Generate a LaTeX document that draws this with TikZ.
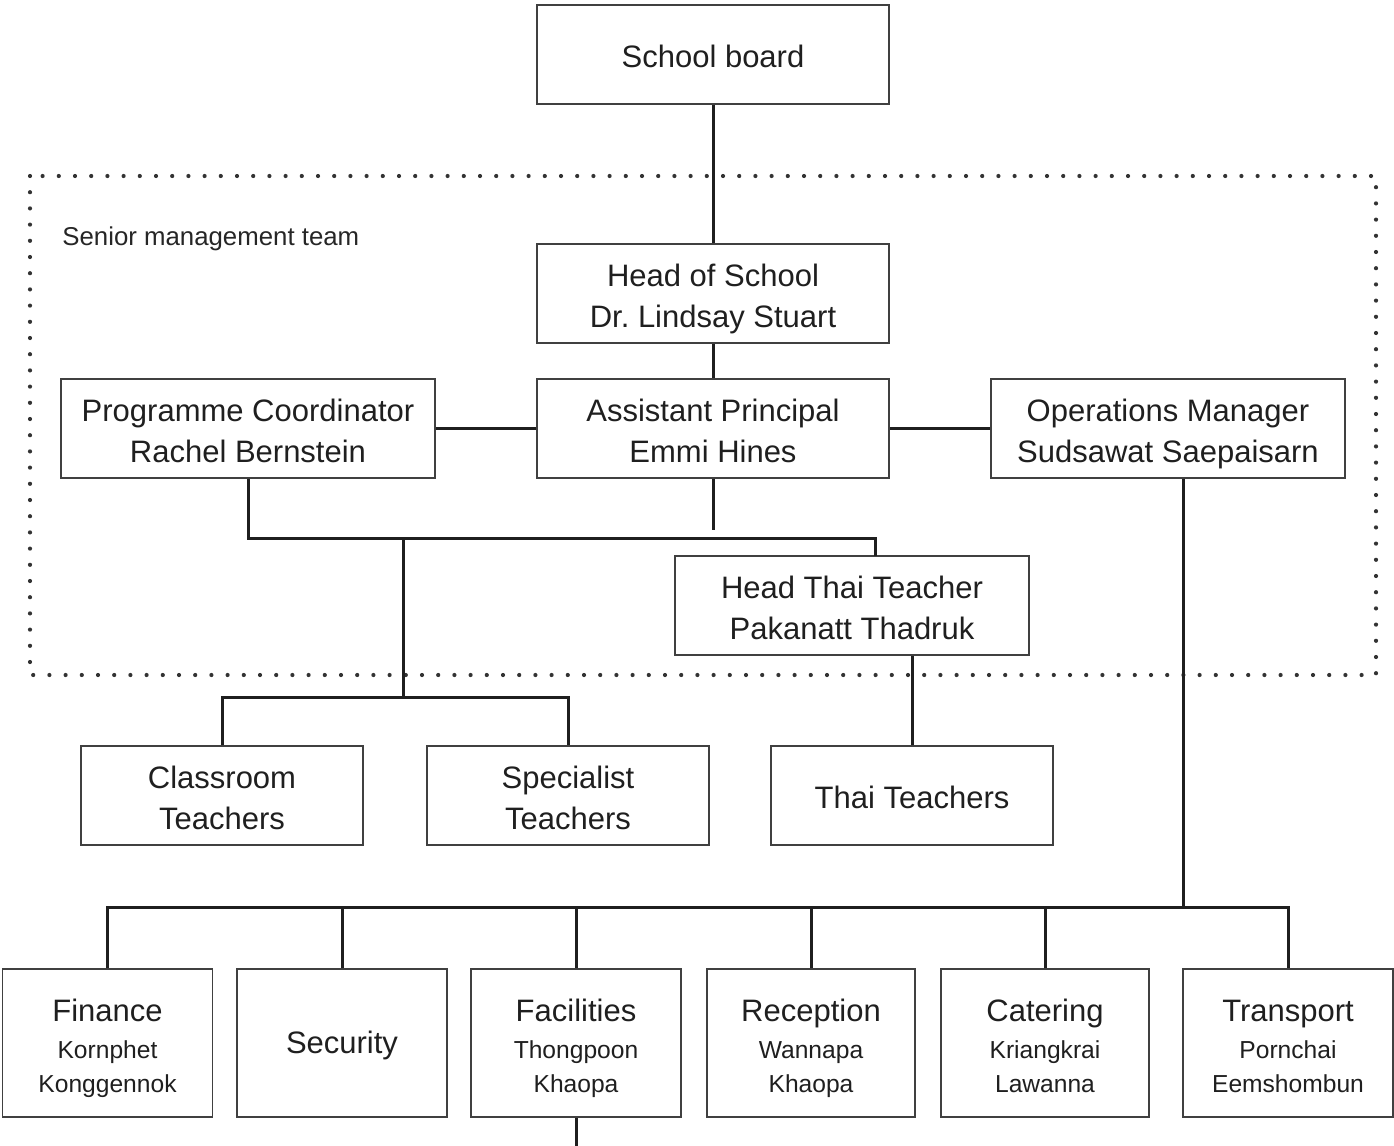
\documentclass[tikz,border=0pt]{standalone}
\usepackage{fontspec}
\setmainfont{Liberation Sans}
\frenchspacing
\newcommand\topstr{\rule{0pt}{16.8pt}}
\newcommand\botstr{\rule[-3.7pt]{0pt}{3.7pt}}
\newcommand\onestr{\rule[-3.7pt]{0pt}{20.5pt}}
\newcommand\btopstr{\rule{0pt}{16.5pt}}
\newcommand\bbotstr{\rule[-3pt]{0pt}{3pt}}
\newcommand\bonestr{\rule[-2pt]{0pt}{15.6pt}}
\begin{document}
\begin{tikzpicture}[x=0.5pt,y=-0.5pt,
  box/.style={draw=black!75, line width=0.8pt, inner sep=0pt, align=center, text=black!88,
    font=\fontsize{15.5}{20.5}\selectfont, minimum height=49.5pt},
  bbox/.style={box, minimum width=105pt, minimum height=74pt, font=\fontsize{12.3}{17}\selectfont},
  lead/.style={line width=1.5pt, black!88},
  team/.style={line width=2.1pt, black!80, line cap=round, dash pattern=on 0pt off 8.1pt}]
\useasboundingbox (0,0) rectangle (1394,1146);
\draw[team] (30,176) rectangle (1376,675);
\node[anchor=west, font=\fontsize{12.9}{15}\selectfont, text=black!85, inner sep=0pt] (smt) at (62,239) {Senior management team};

\node[box, minimum width=176pt] (sb) at (713,54.5) {\onestr School board};
\node[box, minimum width=176pt] (hos) at (713,293.5) {\topstr Head of School\\Dr. Lindsay Stuart\botstr};
\node[box, minimum width=187pt] (pc) at (248,428.5) {\topstr Programme Coordinator\\Rachel Bernstein\botstr};
\node[box, minimum width=176pt] (ap) at (713,428.5) {\topstr Assistant Principal\\Emmi Hines\botstr};
\node[box, minimum width=177pt] (om) at (1168,428.5) {\topstr Operations Manager\\Sudsawat Saepaisarn\botstr};
\node[box, minimum width=177pt] (ht) at (852,605.5) {\topstr Head Thai Teacher\\Pakanatt Thadruk\botstr};
\node[box, minimum width=141pt] (ct) at (222,795.5) {\topstr Classroom\\Teachers\botstr};
\node[box, minimum width=141pt] (st) at (568,795.5) {\topstr Specialist\\Teachers\botstr};
\node[box, minimum width=141pt] (tt) at (912,795.5) {\onestr Thai Teachers};

\node[bbox] (fin) at (107.5,1043) {{\fontsize{15.5}{19}\selectfont\btopstr Finance}\\[1.5pt]Kornphet\\Konggennok\bbotstr};
\node[bbox] (sec) at (342,1043) {{\fontsize{15.5}{19}\selectfont\bonestr Security}};
\node[bbox] (fac) at (576,1043) {{\fontsize{15.5}{19}\selectfont\btopstr Facilities}\\[1.5pt]Thongpoon\\Khaopa\bbotstr};
\node[bbox, minimum width=104pt] (rec) at (811,1043) {{\fontsize{15.5}{19}\selectfont\btopstr Reception}\\[1.5pt]Wannapa\\Khaopa\bbotstr};
\node[bbox, minimum width=104pt] (cat) at (1045,1043) {{\fontsize{15.5}{19}\selectfont\btopstr Catering}\\[1.5pt]Kriangkrai\\Lawanna\bbotstr};
\node[bbox] (tra) at (1288,1043) {{\fontsize{15.5}{19}\selectfont\btopstr Transport}\\[1.5pt]Pornchai\\Eemshombun\bbotstr};

\coordinate (j1) at (403,538);
\coordinate (j2) at (403,697);
\coordinate (j3) at (1183,907);
\coordinate (htt) at (875,556);
\coordinate (apend) at (713,530);
\coordinate (fend) at (576,1146);

\draw[lead] (sb) -- (hos);
\draw[lead] (hos) -- (ap);
\draw[lead] (pc) -- (ap);
\draw[lead] (ap) -- (om);
\draw[lead] (ap.south) -- (apend);
\draw[lead] (pc.south) |- (j1) -| (htt);
\draw[lead] (j1) -- (j2);
\draw[lead] (ct.north) |- (j2) -| (st.north);
\draw[lead] (ht.south -| tt.north) -- (tt.north);
\draw[lead] (om.south -| j3) -- (j3);
\draw[lead] (fin.north) |- (j3) -| (tra.north);
\foreach \n in {sec,fac,rec,cat} \draw[lead] (\n.north) -- (\n.north |- j3);
\draw[lead] (fac.south) -- (fend);
\end{tikzpicture}
\end{document}
